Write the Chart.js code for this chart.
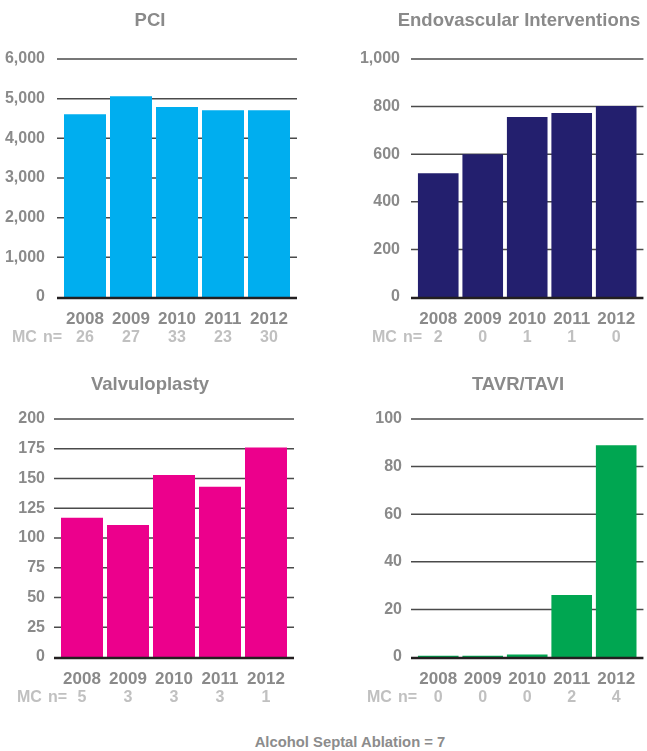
<!DOCTYPE html>
<html><head><meta charset="utf-8">
<script src="https://cdn.jsdelivr.net/npm/chart.js@4"></script>
<style>
body{margin:0;background:#fff;width:647px;height:751px;position:relative;overflow:hidden;}
canvas{position:absolute;}
#note{position:absolute;left:200px;width:300px;top:734px;height:18px;line-height:18px;text-align:center;font:bold 14.8px "Liberation Sans",Arial,sans-serif;color:#8c8c8c;}
</style></head><body>
<canvas id="c1" width="320" height="360" style="left:0;top:0"></canvas>
<canvas id="c2" width="327" height="360" style="left:320px;top:0"></canvas>
<canvas id="c3" width="320" height="360" style="left:0;top:360px"></canvas>
<canvas id="c4" width="327" height="360" style="left:320px;top:360px"></canvas>
<div id="note">Alcohol Septal Ablation = 7</div>
<script>
const years = ['2008', '2009', '2010', '2011', '2012'];
const pciValues = [4610, 5060, 4790, 4710, 4710];
const pciMC = ['26', '27', '33', '23', '30'];
const endoValues = [520, 600, 756, 773, 802];
const endoMC = ['2', '0', '1', '1', '0'];
const valvValues = [117, 111, 153, 143, 176];
const valvMC = ['5', '3', '3', '3', '1'];
const tavrValues = [0.5, 0.5, 1, 26, 89];
const tavrMC = ['0', '0', '0', '2', '4'];
const mcPrefixA = 'MC';
const mcPrefixB = 'n=';
const noteText = 'Alcohol Septal Ablation = 7';

Chart.defaults.font.family = '"Liberation Sans", Arial, sans-serif';
Chart.defaults.locale = 'en-US';

const extGrid = {
  id: 'extGrid',
  beforeDatasetsDraw(chart) {
    const {ctx, chartArea: a, scales: {y}} = chart;
    ctx.save();
    ctx.strokeStyle = '#4a4a4a';
    ctx.lineWidth = 1.5;
    y.ticks.forEach(t => {
      if (t.value === 0) return;
      const py = y.getPixelForValue(t.value);
      ctx.beginPath(); ctx.moveTo(a.left - 5, py); ctx.lineTo(a.right + 5, py); ctx.stroke();
    });
    ctx.restore();
  },
  afterDatasetsDraw(chart, args, opts) {
    const {ctx, chartArea: a, scales: {y, mc}} = chart;
    ctx.save();
    ctx.strokeStyle = '#231f20';
    ctx.lineWidth = 2.6;
    const py = y.getPixelForValue(0) + 1;
    ctx.beginPath(); ctx.moveTo(a.left - 5, py); ctx.lineTo(a.right + 5, py); ctx.stroke();
    ctx.fillStyle = '#c0c0c0';
    ctx.font = 'bold 16px "Liberation Sans", Arial, sans-serif';
    ctx.textAlign = 'left';
    ctx.textBaseline = 'middle';
    const my = mc.top + 1 + 9.6;
    ctx.fillText(mcPrefixA, a.left + opts.mcOffset, my);
    ctx.fillText(mcPrefixB, a.left + opts.mcOffset + 31, my);
    ctx.fillStyle = '#8a8a8a';
    ctx.font = 'bold 18.5px "Liberation Sans", Arial, sans-serif';
    ctx.textAlign = 'center';
    ctx.fillText(opts.title, opts.titleX, opts.titleY);
    ctx.restore();
  }
};

function make(id, title, values, mcLabels, color, yMax, step, padR, yWidth, tickPad, titleX, titleY, mcOffset) {
  return new Chart(document.getElementById(id), {
    type: 'bar',
    data: {
      labels: years,
      datasets: [{data: values, backgroundColor: color, borderWidth: 0,
        barPercentage: 42 / 46, categoryPercentage: 1}]
    },
    options: {
      responsive: false,
      animation: false,
      devicePixelRatio: 1,
      layout: {padding: {left: 0, right: padR, top: 59, bottom: 0}},
      plugins: {
        legend: {display: false},
        tooltip: {enabled: false},
        title: {display: false},
        extGrid: {mcOffset: mcOffset, title: title, titleX: titleX, titleY: titleY}
      },
      scales: {
        x: {type: 'category', position: 'bottom', offset: true, weight: 0,
          grid: {display: false, drawTicks: false}, border: {display: false},
          ticks: {color: '#8a8a8a', font: {size: 17, weight: 'bold'}, padding: 11.8, maxRotation: 0, autoSkip: false},
          afterFit: s => { s.height = 30; }},
        mc: {type: 'category', labels: mcLabels, position: 'bottom', offset: true, weight: 1,
          grid: {display: false, drawTicks: false}, border: {display: false},
          ticks: {color: '#c0c0c0', font: {size: 16, weight: 'bold'}, padding: 1, maxRotation: 0, autoSkip: false},
          afterFit: s => { s.height = 33; }},
        y: {min: 0, max: yMax,
          grid: {display: false, drawTicks: false}, border: {display: false},
          ticks: {stepSize: step, color: '#8a8a8a', font: {size: 16, weight: 'bold'}, padding: tickPad},
          afterFit: s => { s.width = yWidth; }}
      }
    },
    plugins: [extGrid]
  });
}

make('c1', 'PCI', pciValues, pciMC, '#00aeef', 6000, 1000, 28, 62, 17, 150, 21, -50);
make('c2', 'Endovascular Interventions', endoValues, endoMC, '#231f6e', 1000, 200, 1, 96, 16, 199, 21, -44);
make('c3', 'Valvuloplasty', valvValues, valvMC, '#ec008c', 200, 25, 31, 59, 14, 150, 24.5, -42);
make('c4', 'TAVR/TAVI', tavrValues, tavrMC, '#00a651', 100, 20, 1, 96, 14, 198, 24.5, -49);
</script>
</body></html>
